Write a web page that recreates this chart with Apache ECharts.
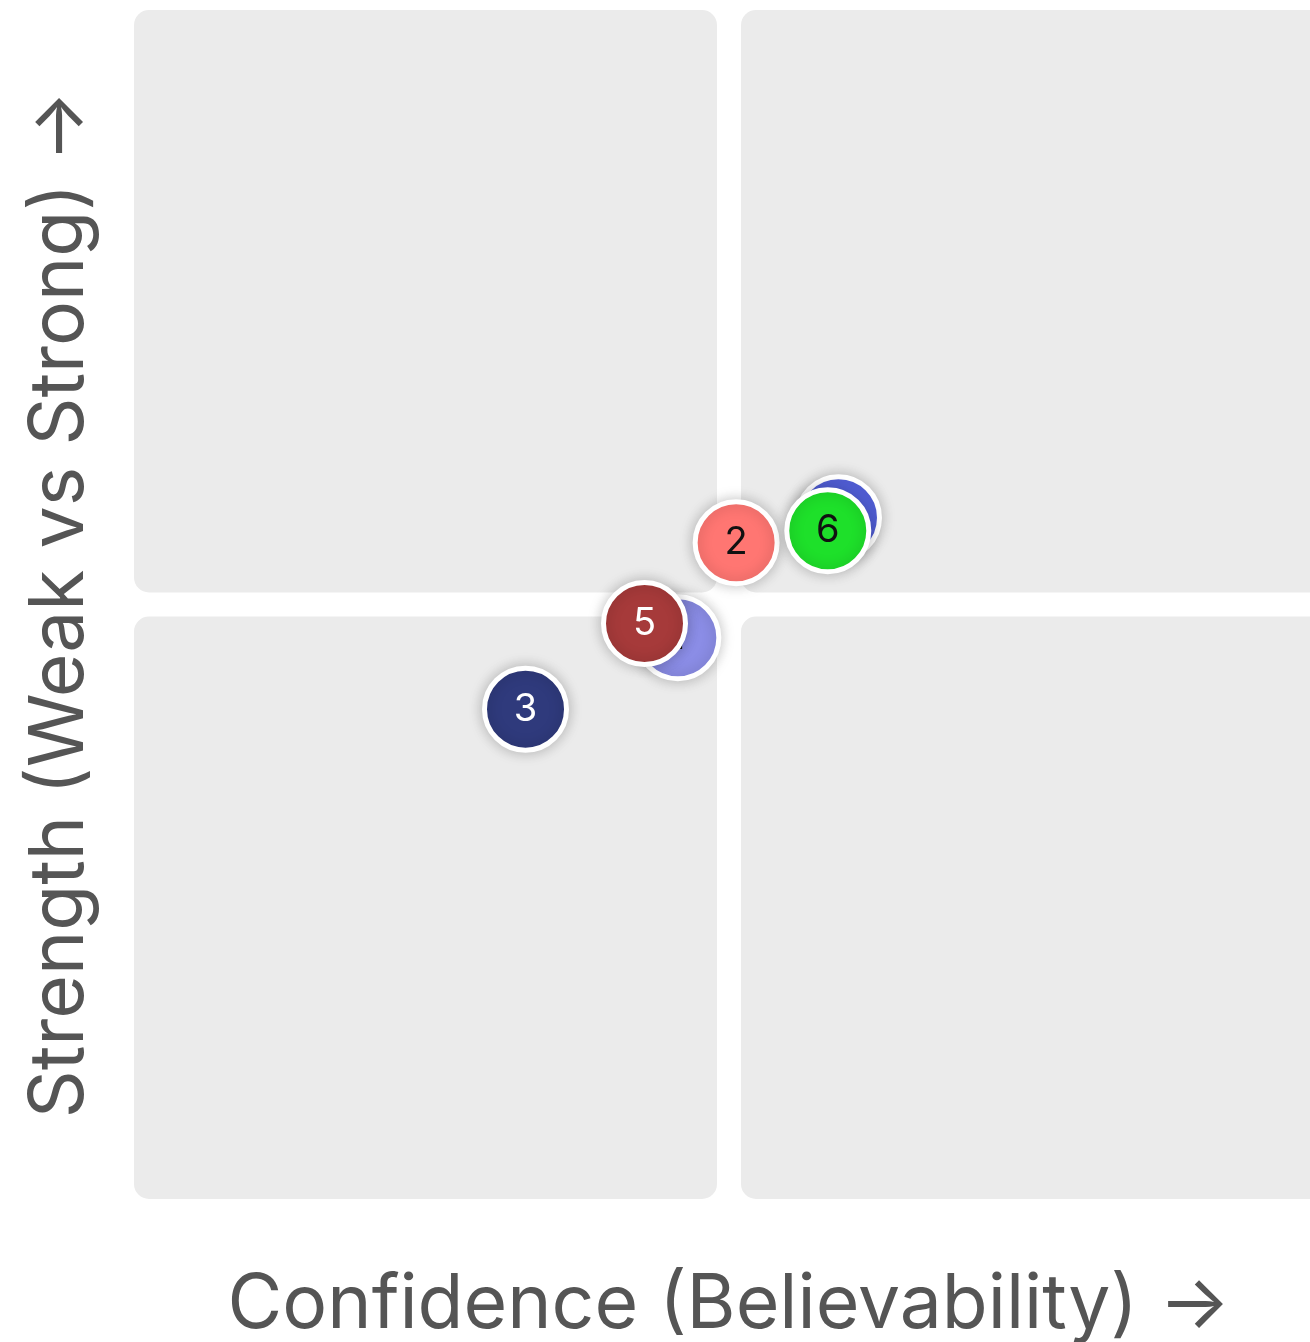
<!DOCTYPE html>
<html>
<head>
<meta charset="utf-8">
<script src="https://cdn.jsdelivr.net/npm/echarts@6/dist/echarts.min.js"></script>
<style>
  html, body { margin: 0; padding: 0; background: #fff; }
  #main { width: 1310px; height: 1342px; }
</style>
</head>
<body>
<div id="main"></div>
<script>
// points (0-100 on both axes, 50 = quadrant split)
var pointNames = ['1', '2', '3', '4', '5', '6'];
var confidence = [45.7, 50.6, 32.9, 59.2, 42.9, 58.3];
var strength = [47.2, 55.2, 41.2, 57.3, 48.4, 56.2];
var pointColors = ['#8b8de6', '#ff7672', '#2f3a7c', '#5563e0', '#a63a3a', '#1ee02a'];
var labelColors = ['#111', '#111', '#fff', '#111', '#fff', '#111'];

// quadrants [x0, y0, x1, y1]
var quadrants = [
  [0, 50, 50, 100],
  [50, 50, 100, 100],
  [0, 0, 50, 50],
  [50, 0, 100, 50]
];

var myChart = echarts.init(document.getElementById('main'));

// one series per point so later points cover earlier ones, labels too
var pointSeries = pointNames.map(function (n, i) {
  return {
    type: 'scatter',
    z: 3 + i,
    data: [{ name: n, value: [confidence[i], strength[i]] }],
    symbol: 'circle',
    symbolSize: 82,
    itemStyle: {
      color: pointColors[i],
      opacity: 1,
      borderColor: '#fff',
      borderWidth: 5,
      shadowBlur: 14,
      shadowColor: 'rgba(0,0,0,0.22)'
    },
    label: {
      show: true,
      position: 'inside',
      formatter: '{b}',
      fontSize: 38,
      color: labelColors[i],
      fontFamily: 'Inter'
    }
  };
});

var option = {
  animation: false,
  grid: { left: 134, right: -14, top: 10, bottom: 143, outerBoundsMode: 'none', containLabel: false },
  xAxis: {
    type: 'value', min: 0, max: 100,
    axisLine: { show: false }, axisTick: { show: false },
    axisLabel: { show: false }, splitLine: { show: false },
    name: 'Confidence (Believability) →',
    nameLocation: 'middle',
    nameGap: 69,
    nameTextStyle: { fontSize: 75, color: '#555', fontFamily: 'Inter' }
  },
  yAxis: {
    type: 'value', min: 0, max: 100,
    axisLine: { show: false }, axisTick: { show: false },
    axisLabel: { show: false }, splitLine: { show: false },
    name: 'Strength (Weak vs Strong) →',
    nameLocation: 'middle',
    nameGap: 36,
    nameTextStyle: { fontSize: 75, color: '#555', fontFamily: 'Inter' }
  },
  series: [
    {
      type: 'custom',
      z: 1,
      silent: true,
      data: quadrants,
      renderItem: function (params, api) {
        var p0 = api.coord([api.value(0), api.value(3)]);
        var p1 = api.coord([api.value(2), api.value(1)]);
        var gap = 12;
        var x0 = p0[0] + (api.value(0) > 0 ? gap : 0);
        var x1 = p1[0] - (api.value(2) < 100 ? gap : 0);
        var y0 = p0[1] + (api.value(3) < 100 ? gap : 0);
        var y1 = p1[1] - (api.value(1) > 0 ? gap : 0);
        return {
          type: 'rect',
          shape: { x: x0, y: y0, width: x1 - x0, height: y1 - y0, r: 15 },
          style: { fill: '#ebebeb' }
        };
      }
    }
  ].concat(pointSeries)
};
myChart.setOption(option);
</script>
</body>
</html>
